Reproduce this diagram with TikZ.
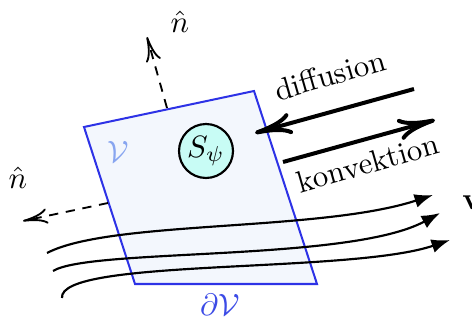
\documentclass[tikz,border=0pt]{standalone}
\usetikzlibrary{arrows.meta}
\definecolor{boxfill}{RGB}{243,247,253}
\definecolor{boxline}{RGB}{45,50,230}
\definecolor{vlight}{RGB}{135,165,240}
\definecolor{dvcol}{RGB}{60,75,230}
\definecolor{srcfill}{RGB}{200,252,245}
\tikzset{
  normalarrow/.style={dash pattern=on 3pt off 2.5pt, line width=0.6pt, -{To[length=8pt,width=5pt]}},
  fluxarrow/.style={line width=1.3pt, -{To[length=12pt,width=7pt]}},
  flowline/.style={line width=0.7pt, -{Latex[length=6pt,width=4.5pt]}},
  lbl/.style={inner sep=0pt}
}
\begin{document}
\begin{tikzpicture}[x=0.3242pt,y=-0.3242pt]
\clip (0,0) rectangle (472,325);
% control volume
\coordinate (A) at (84,127);
\coordinate (B) at (254,91);
\coordinate (C) at (317,284);
\coordinate (D) at (135,284);
\draw[boxline, fill=boxfill, line width=0.65pt] (A) -- (B) -- (C) -- (D) -- cycle;
% normals
\coordinate (n1s) at (167,108);
\coordinate (n1e) at (147,37);
\coordinate (n2s) at (108,203);
\coordinate (n2e) at (23,221);
\draw[normalarrow] (n1s) -- (n1e);
\draw[normalarrow] (n2s) -- (n2e);
\node[lbl] (nh1) at (180,22) {$\hat{n}$};
\node[lbl] (nh2) at (18,178) {$\hat{n}$};
% labels
\node[lbl, text=vlight] (V) at (118,152) {$\mathcal{V}$};
\node[lbl, text=dvcol] (dV) at (220,305) {$\partial\mathcal{V}$};
% source
\node[circle, draw, line width=0.7pt, fill=srcfill, minimum size=17.5pt, inner sep=0pt] (S) at (206,151) {$S_\psi$};
% flow lines
\coordinate (f1s) at (47,253);
\coordinate (f1e) at (433,195);
\coordinate (f2s) at (53,271);
\coordinate (f2e) at (440,213);
\coordinate (f3s) at (62,298);
\coordinate (f3e) at (450,240);
\draw[flowline] (f1s) .. controls (110,220) and (320,232) .. (f1e);
\draw[flowline] (f2s) .. controls (90,248) and (350,262) .. (f2e);
\draw[flowline] (f3s) .. controls (58,258) and (350,274) .. (f3e);
\node[lbl] (v) at (472,203) {$\mathbf{v}$};
% diffusion / convection
\coordinate (d1) at (414,89);
\coordinate (d2) at (255,133);
\coordinate (k1) at (283,162);
\coordinate (k2) at (435,120);
\draw[fluxarrow] (d1) -- (d2);
\draw[fluxarrow] (k1) -- (k2);
\node[lbl, rotate=16] (diff) at (330,75) {diffusion};
\node[lbl, rotate=16] (konv) at (368,163) {konvektion};
\end{tikzpicture}
\end{document}
